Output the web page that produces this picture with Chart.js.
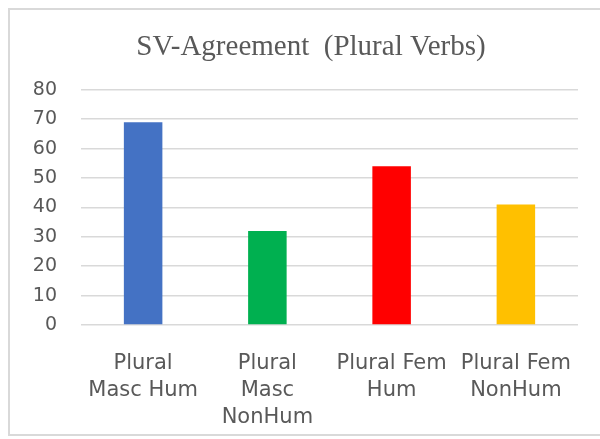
<!DOCTYPE html>
<html>
<head>
<meta charset="utf-8">
<script src="https://cdn.jsdelivr.net/npm/chart.js@4"></script>
<style>
    html, body { margin: 0; background: #fff; overflow: hidden; }
    #wrap { position: relative; width: 622px; height: 439px; }
    #frame {
        position: absolute; left: 8px; top: 8px; width: 600px; height: 424px;
        border: 2px solid #d9d9d9; border-right: none;
    }
</style>
</head>
<body>
<div id="wrap">
    <div id="frame"></div>
    <canvas id="svChart"></canvas>
</div>
<script>
// Data
const categories = [
    ['Plural', 'Masc Hum'],
    ['Plural', 'Masc', 'NonHum'],
    ['Plural Fem', 'Hum'],
    ['Plural Fem', 'NonHum']
];
const values = [69, 32, 54, 41];
const barColors = ['#4472C4', '#00B050', '#FF0000', '#FFC000'];
const yTicks = { min: 0, max: 80, step: 10 };

const textGray = '#595959';
const gridGray = '#d9d9d9';

new Chart(
    document.getElementById('svChart'),
    {
        type: 'bar',
        data: {
            labels: categories,
            datasets: [
                {
                    label: 'SV-Agreement',
                    data: values,
                    backgroundColor: barColors,
                    borderWidth: 0,
                    barPercentage: 0.31,
                    categoryPercentage: 1
                }
            ]
        },
        options: {
            responsive: true,
            maintainAspectRatio: false,
            animation: false,
            layout: {
                padding: { top: 9, left: 0, right: 0, bottom: 14 }
            },
            scales: {
                x: {
                    grid: { display: false },
                    border: { display: false },
                    ticks: {
                        color: textGray,
                        font: { family: 'DejaVu Sans', size: 21, lineHeight: '27px' },
                        padding: 17,
                        maxRotation: 0,
                        autoSkip: false
                    },
                    afterFit: function(scale) { scale.height = 100; }
                },
                y: {
                    min: yTicks.min,
                    max: yTicks.max,
                    grid: { color: gridGray, lineWidth: 1.5, drawTicks: false },
                    border: { display: false },
                    ticks: {
                        stepSize: yTicks.step,
                        color: textGray,
                        font: { family: 'DejaVu Sans', size: 19 },
                        padding: 24
                    },
                    afterFit: function(scale) { scale.width = 81; }
                },
                // empty spacer on the right so the title sits where the reference has it
                spacer: {
                    position: 'right',
                    grid: { display: false },
                    border: { display: false },
                    ticks: { display: false },
                    afterFit: function(scale) { scale.width = 44; }
                }
            },
            plugins: {
                legend: { display: false },
                tooltip: { enabled: false },
                title: {
                    display: true,
                    text: 'SV-Agreement  (Plural Verbs)',
                    color: textGray,
                    font: { family: 'Liberation Serif', size: 29, weight: 'normal', lineHeight: 1.2 },
                    padding: { top: 21, bottom: 25 }
                }
            }
        }
    }
);
</script>
</body>
</html>
